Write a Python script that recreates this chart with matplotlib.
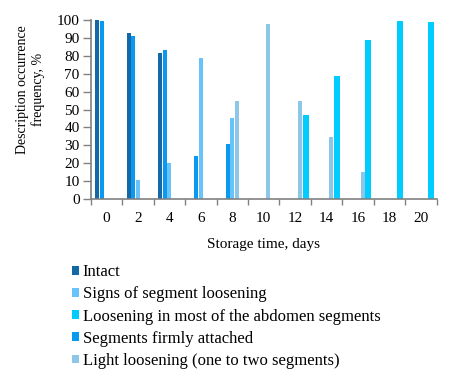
import matplotlib
matplotlib.use("Agg")
import matplotlib.pyplot as plt
import numpy as np

days = [0, 2, 4, 6, 8, 10, 12, 14, 16, 18, 20]
intact = [100, 92.5, 81.5, np.nan, np.nan, np.nan, np.nan, np.nan, np.nan, np.nan, np.nan]
firmly = [99.4, 91, 83, 23.9, 30.6, np.nan, np.nan, np.nan, np.nan, np.nan, np.nan]
signs = [np.nan, 10.5, 20, 78.5, 45.3, np.nan, np.nan, np.nan, np.nan, np.nan, np.nan]
light = [np.nan, np.nan, np.nan, np.nan, 55, 97.5, 55, 34.4, 14.9, np.nan, np.nan]
most = [np.nan, np.nan, np.nan, np.nan, np.nan, np.nan, 47.2, 68.7, 88.6, 99.6, 98.9]

names = ['Intact', 'Signs of segment loosening',
         'Loosening in most of the abdomen segments',
         'Segments firmly attached',
         'Light loosening (one to two segments)']

plt.rcParams['font.family'] = ['Liberation Serif', 'DejaVu Serif']

fig = plt.figure(figsize=(4.58, 3.77), dpi=100)
ax = fig.add_axes([0.1983, 0.472, 0.7552, 0.475])

x = np.arange(len(days))
w = 0.127
step = 0.15
# slot order in each group: intact, firmly, signs, light, most
series = [
    (intact, '#1368a8', 'Intact'),
    (firmly, '#0a99f0', 'Segments firmly attached'),
    (signs, '#66c4fa', 'Signs of segment loosening'),
    (light, '#8ec6e8', 'Light loosening (one to two segments)'),
    (most, '#00ccff', 'Loosening in most of the abdomen segments'),
]
handles = {}
for k, (vals, col, lab) in enumerate(series):
    vals = np.array(vals, dtype=float)
    width = w if k < 4 else 0.19
    bars = ax.bar(x + (k - 2) * step + (0.03 if k == 4 else 0), np.nan_to_num(vals),
                  width=width, color=col, label=lab, zorder=2)
    handles[lab] = bars

ax.set_xlim(-0.5, len(days) - 0.5)
ax.set_ylim(0, 100)
ax.set_yticks(range(0, 101, 10))
ax.set_xticks(x)
ax.set_xticklabels([str(d) for d in days])
ax.set_xticks(np.arange(-0.5, len(days), 1), minor=True)
ax.tick_params(axis='x', which='major', length=0, pad=9, labelsize=11)
ax.tick_params(axis='x', which='minor', length=4.5, color='#808080', width=1)
ax.tick_params(axis='y', length=6, pad=2, labelsize=11, color='#808080', width=1)
for s in ['top', 'right']:
    ax.spines[s].set_visible(False)
for s in ['bottom', 'left']:
    ax.spines[s].set_color('#808080')
    ax.spines[s].set_linewidth(1.2)

ax.set_xlabel('Storage time, days', fontsize=11, labelpad=10)
ax.set_ylabel('Description occurrence\nfrequency, %', fontsize=10)
ax.yaxis.set_label_coords(-0.132, 0.61)

leg = fig.legend([handles[n] for n in names], names, loc='upper left',
                 bbox_to_anchor=(0.157, 0.299), frameon=False, fontsize=12,
                 handlelength=0.45, handleheight=0.45, handletextpad=0.2,
                 labelspacing=0.37, borderaxespad=0, borderpad=0)

fig.savefig('out.png', dpi=100)
